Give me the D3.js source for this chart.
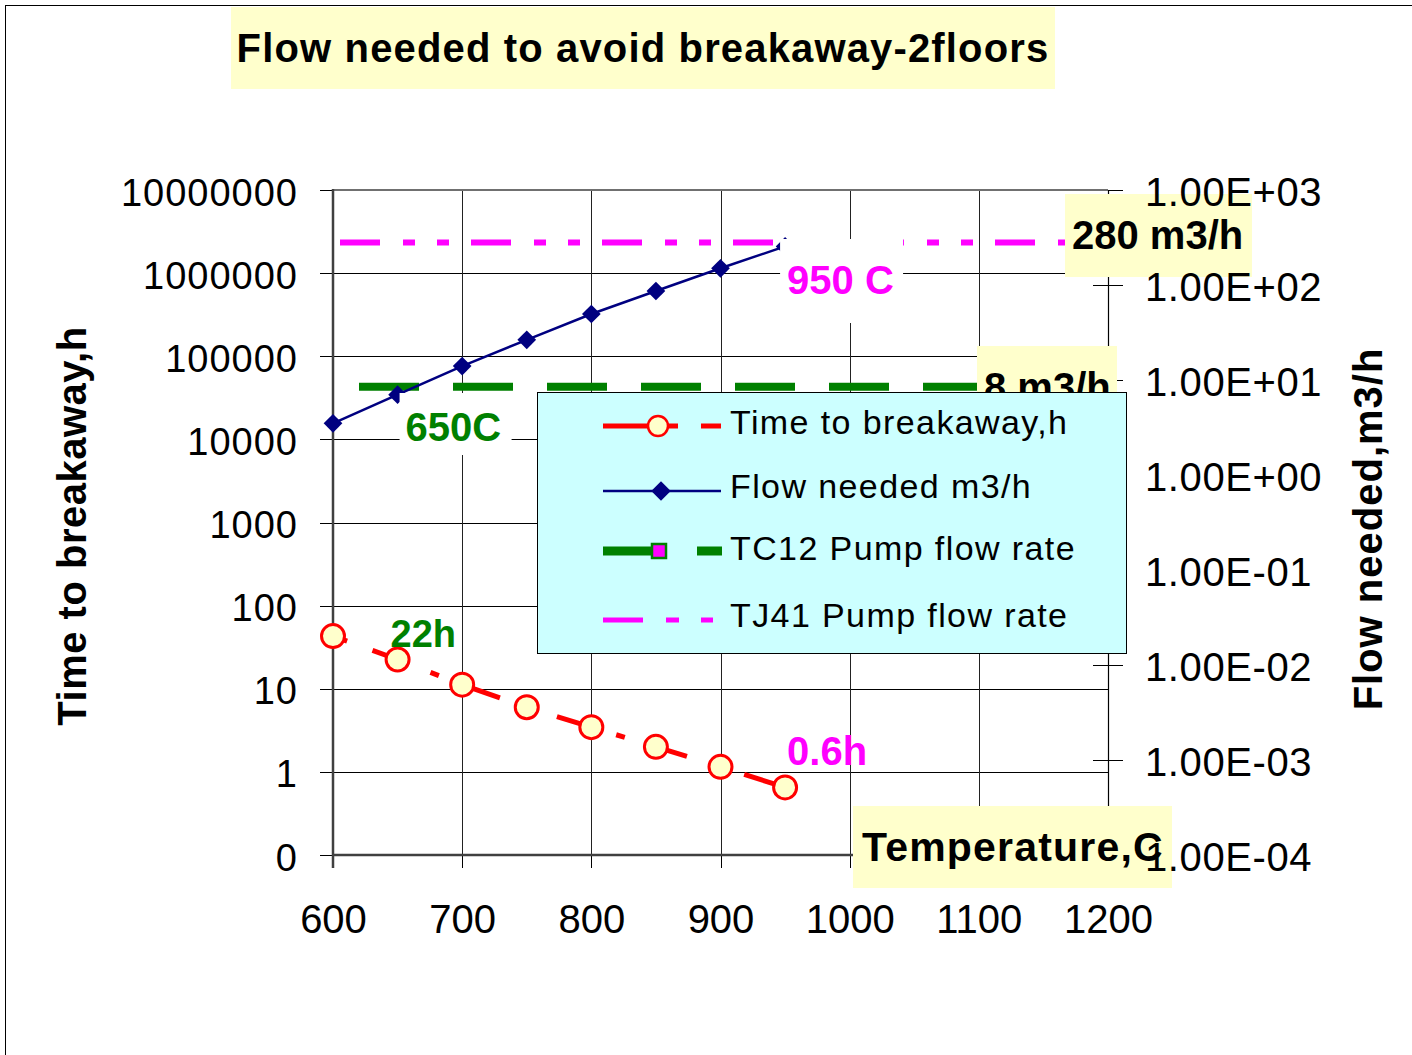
<!DOCTYPE html>
<html><head><meta charset="utf-8">
<script src="https://cdn.jsdelivr.net/npm/d3@7"></script>
<style>
body{margin:0;background:#fff}
svg{display:block;font-family:"Liberation Sans",Arial,sans-serif}
</style>
</head><body>
<svg id="c" width="1412" height="1055"></svg>
<script>
// ---- data ----
const temperatures = [600, 650, 700, 750, 800, 850, 900, 950];
const timeToBreakaway = [43, 22.5, 11.2, 6.0, 3.45, 2.0, 1.15, 0.65];
const flowNeeded = [3.5, 7.0, 14.0, 26.5, 49.5, 86.5, 150, 255];
const pumpSpan = [600, 1200];
const tc12Flow = 8.5;
const tj41Flow = 280;
const xTicks = [600, 700, 800, 900, 1000, 1100, 1200];
const leftTicks = [0.1, 1, 10, 100, 1000, 10000, 100000, 1000000, 10000000];
const leftTickLabels = ["0", "1", "10", "100", "1000", "10000", "100000", "1000000", "10000000"];
const rightTicks = [1e-4, 1e-3, 1e-2, 1e-1, 1, 10, 100, 1000];
const rightTickLabels = ["1.00E-04", "1.00E-03", "1.00E-02", "1.00E-01", "1.00E+00", "1.00E+01", "1.00E+02", "1.00E+03"];
const legendNames = ["Time to breakaway,h", "Flow needed m3/h", "TC12 Pump flow rate", "TJ41 Pump flow rate"];
const titleText = "Flow needed to avoid breakaway-2floors";

// ---- setup ----
const svg = d3.select("#c");
const L = 333, R = 1108, T = 190, B = 855;
const x = d3.scaleLinear().domain([600, 1200]).range([L, R]);
const yL = d3.scaleLog().domain([0.1, 1e7]).range([B, T]);
const yR = d3.scaleLog().domain([1e-4, 1e3]).range([B, T]);

const RED = "#FF0000", NAVY = "#000080", GREEN = "#008000", MAG = "#FF00FF", PALE = "#FFFFCC";

// outer frame
svg.append("rect").attr("x", 5.5).attr("y", 5.5).attr("width", 1500).attr("height", 1500)
  .attr("fill", "none").attr("stroke", "#000").attr("stroke-width", 1);

// title
svg.append("rect").attr("x", 231).attr("y", 7).attr("width", 824).attr("height", 82).attr("fill", PALE);
svg.append("text").attr("x", 643).attr("y", 62).attr("text-anchor", "middle")
  .attr("font-size", 40).attr("font-weight", "bold").attr("letter-spacing", 1.15).text(titleText);

// gridlines
const grid = svg.append("g").attr("shape-rendering", "crispEdges");
grid.selectAll("line.h").data(leftTicks).join("line").attr("class", "h")
  .attr("x1", L).attr("x2", R).attr("y1", d => Math.round(yL(d)) + 0.5).attr("y2", d => Math.round(yL(d)) + 0.5)
  .attr("stroke", "#000").attr("stroke-width", 1);
grid.selectAll("line.v").data(xTicks).join("line").attr("class", "v")
  .attr("y1", T).attr("y2", B).attr("x1", d => Math.round(x(d)) + 0.5).attr("x2", d => Math.round(x(d)) + 0.5)
  .attr("stroke", "#222").attr("stroke-width", 1);

// axes lines and ticks (labels drawn later on top)
const gLeft = svg.append("g").attr("transform", `translate(${L},0)`)
  .call(d3.axisLeft(yL).tickValues(leftTicks).tickFormat("").tickSizeOuter(0).tickSize(13));
const gRight = svg.append("g").attr("transform", `translate(${R},0)`)
  .call(d3.axisRight(yR).tickValues(rightTicks).tickFormat("").tickSizeOuter(0).tickSize(15));
gRight.selectAll(".tick").append("line").attr("x1", -15).attr("x2", 0).attr("stroke", "#000");
const gBottom = svg.append("g").attr("transform", `translate(0,${B})`)
  .call(d3.axisBottom(x).tickValues(xTicks).tickFormat("").tickSizeOuter(0).tickSize(13));
[gLeft, gRight, gBottom].forEach(g => {
  g.selectAll(".tick line").attr("stroke", "#000").attr("shape-rendering", "crispEdges");
  g.select(".domain").remove();
});
// plot frame
svg.append("line").attr("x1", L).attr("x2", R).attr("y1", T).attr("y2", T).attr("stroke", "#707070").attr("stroke-width", 2);
svg.append("line").attr("x1", L).attr("x2", L).attr("y1", T - 1).attr("y2", B + 13).attr("stroke", "#404040").attr("stroke-width", 2.5);
svg.append("line").attr("x1", L).attr("x2", R).attr("y1", B).attr("y2", B).attr("stroke", "#404040").attr("stroke-width", 2.5);
svg.append("line").attr("x1", R + 0.5).attr("x2", R + 0.5).attr("y1", T).attr("y2", B).attr("stroke", "#000").attr("stroke-width", 1.2);

// ---- series ----
const lineR = d3.line().x(d => x(d[0])).y(d => yR(d[1]));
const lineL = d3.line().x(d => x(d[0])).y(d => yL(d[1]));

// TC12 pump flow rate
svg.append("path").datum(pumpSpan.map(t => [t, tc12Flow])).attr("d", lineR)
  .attr("fill", "none").attr("stroke", GREEN).attr("stroke-width", 8)
  .attr("stroke-dasharray", "60 34").attr("stroke-dashoffset", 68);
// TJ41 pump flow rate
svg.append("path").datum(pumpSpan.map(t => [t, tj41Flow])).attr("d", lineR)
  .attr("fill", "none").attr("stroke", MAG).attr("stroke-width", 6)
  .attr("stroke-dasharray", "40 23 12 22 12 22").attr("stroke-dashoffset", 124);

// Flow needed
const flowData = temperatures.map((t, i) => [t, flowNeeded[i]]);
svg.append("path").datum(flowData).attr("d", lineR)
  .attr("fill", "none").attr("stroke", NAVY).attr("stroke-width", 2.5);
const diamond = d3.symbol().type(d3.symbolSquare).size(175);
svg.selectAll("path.dia").data(flowData).join("path").attr("class", "dia")
  .attr("d", diamond).attr("transform", d => `translate(${x(d[0])},${yR(d[1])}) rotate(45)`)
  .attr("fill", NAVY);

// Time to breakaway
const timeData = temperatures.map((t, i) => [t, timeToBreakaway[i]]);
svg.append("path").datum(timeData).attr("d", lineL)
  .attr("fill", "none").attr("stroke", RED).attr("stroke-width", 5)
  .attr("stroke-dasharray", "38 24 9 27").attr("stroke-dashoffset", 56);
svg.selectAll("circle.tb").data(timeData).join("circle").attr("class", "tb")
  .attr("cx", d => x(d[0])).attr("cy", d => yL(d[1])).attr("r", 11.5)
  .attr("fill", PALE).attr("stroke", RED).attr("stroke-width", 3);

// ---- annotations ----
function boxLabel(bx, by, bw, bh, fill, tx, ty, txt, color, size, ls) {
  if (fill) svg.append("rect").attr("x", bx).attr("y", by).attr("width", bw).attr("height", bh).attr("fill", fill);
  svg.append("text").attr("x", tx).attr("y", ty).attr("font-size", size).attr("font-weight", "bold")
    .attr("letter-spacing", ls || 0).attr("fill", color).text(txt);
}
const x950 = x(950), x650 = x(650);
boxLabel(x950 - 5, 239, 123, 84, "#fff", x950 + 2, 294, "950 C", MAG, 40);
boxLabel(x650 + 2, 393, 112, 62, "#fff", x650 + 8, 441, "650C", GREEN, 40);
boxLabel(0, 0, 0, 0, null, x650 - 7, 647, "22h", GREEN, 38);
boxLabel(0, 0, 0, 0, null, x950 + 2, 765, "0.6h", MAG, 40);
boxLabel(1065, 194, 187, 83, PALE, 1072, 249, "280 m3/h", "#000", 40);
boxLabel(977, 346, 140, 60, PALE, 984, 401, "8 m3/h", "#000", 40);
boxLabel(853, 806, 319, 82, PALE, 862, 861, "Temperature,C", "#000", 41, 1.2);

// ---- axis labels (on top) ----
const tl = svg.append("g").attr("transform", `translate(${L},0)`)
  .call(d3.axisLeft(yL).tickValues(leftTicks).tickFormat((d, i) => leftTickLabels[i]).tickSize(0).tickPadding(35));
tl.selectAll("text").attr("font-size", 38).attr("letter-spacing", 1).attr("dy", 15).attr("fill", "#000");
const tr = svg.append("g").attr("transform", `translate(${R},0)`)
  .call(d3.axisRight(yR).tickValues(rightTicks).tickFormat((d, i) => rightTickLabels[i]).tickSize(0).tickPadding(37));
tr.selectAll("text").attr("font-size", 40).attr("letter-spacing", 0.6).attr("dy", 15).attr("fill", "#000");
const tb = svg.append("g").attr("transform", `translate(0,${B})`)
  .call(d3.axisBottom(x).tickValues(xTicks).tickFormat(d3.format("d")).tickSize(0).tickPadding(0));
tb.selectAll("text").attr("font-size", 40).attr("dy", 78).attr("fill", "#000");
[tl, tr, tb].forEach(g => { g.select(".domain").remove(); g.attr("font-family", null); });

// axis titles
svg.append("text").attr("transform", "translate(86,526) rotate(-90)").attr("text-anchor", "middle")
  .attr("font-size", 40).attr("font-weight", "bold").attr("letter-spacing", 0.5).text("Time to breakaway,h");
svg.append("text").attr("transform", "translate(1382,529) rotate(-90)").attr("text-anchor", "middle")
  .attr("font-size", 40).attr("font-weight", "bold").attr("letter-spacing", 1).text("Flow needed,m3/h");

// ---- legend ----
const lg = svg.append("g");
lg.append("rect").attr("x", 537.5).attr("y", 392.5).attr("width", 589).attr("height", 261)
  .attr("fill", "#CCFFFF").attr("stroke", "#000").attr("stroke-width", 1);
const rowsY = [426, 491, 551, 620];
const baseY = [434, 498, 560, 627];
// row 1
lg.append("line").attr("x1", 603).attr("x2", 721).attr("y1", rowsY[0]).attr("y2", rowsY[0])
  .attr("stroke", RED).attr("stroke-width", 5).attr("stroke-dasharray", "75 23 20");
lg.append("circle").attr("cx", 658).attr("cy", rowsY[0]).attr("r", 10).attr("fill", PALE).attr("stroke", RED).attr("stroke-width", 2.5);
// row 2
lg.append("line").attr("x1", 603).attr("x2", 721).attr("y1", rowsY[1]).attr("y2", rowsY[1])
  .attr("stroke", NAVY).attr("stroke-width", 2.5);
lg.append("path").attr("d", d3.symbol().type(d3.symbolSquare).size(190))
  .attr("transform", `translate(661,${rowsY[1]}) rotate(45)`).attr("fill", NAVY);
// row 3
lg.append("line").attr("x1", 603).attr("x2", 722).attr("y1", rowsY[2]).attr("y2", rowsY[2])
  .attr("stroke", GREEN).attr("stroke-width", 9).attr("stroke-dasharray", "64 30 25");
lg.append("rect").attr("x", 652).attr("y", rowsY[2] - 7).attr("width", 14).attr("height", 14)
  .attr("fill", MAG).attr("stroke", GREEN).attr("stroke-width", 2.5);
// row 4
lg.append("line").attr("x1", 603).attr("x2", 713).attr("y1", rowsY[3]).attr("y2", rowsY[3])
  .attr("stroke", MAG).attr("stroke-width", 5).attr("stroke-dasharray", "40 23 13 22 12");
lg.selectAll("text").data(legendNames).join("text")
  .attr("x", 730).attr("y", (d, i) => baseY[i]).attr("font-size", 34).attr("letter-spacing", 1.4)
  .attr("fill", "#000").text(d => d);
</script>
</body></html>
